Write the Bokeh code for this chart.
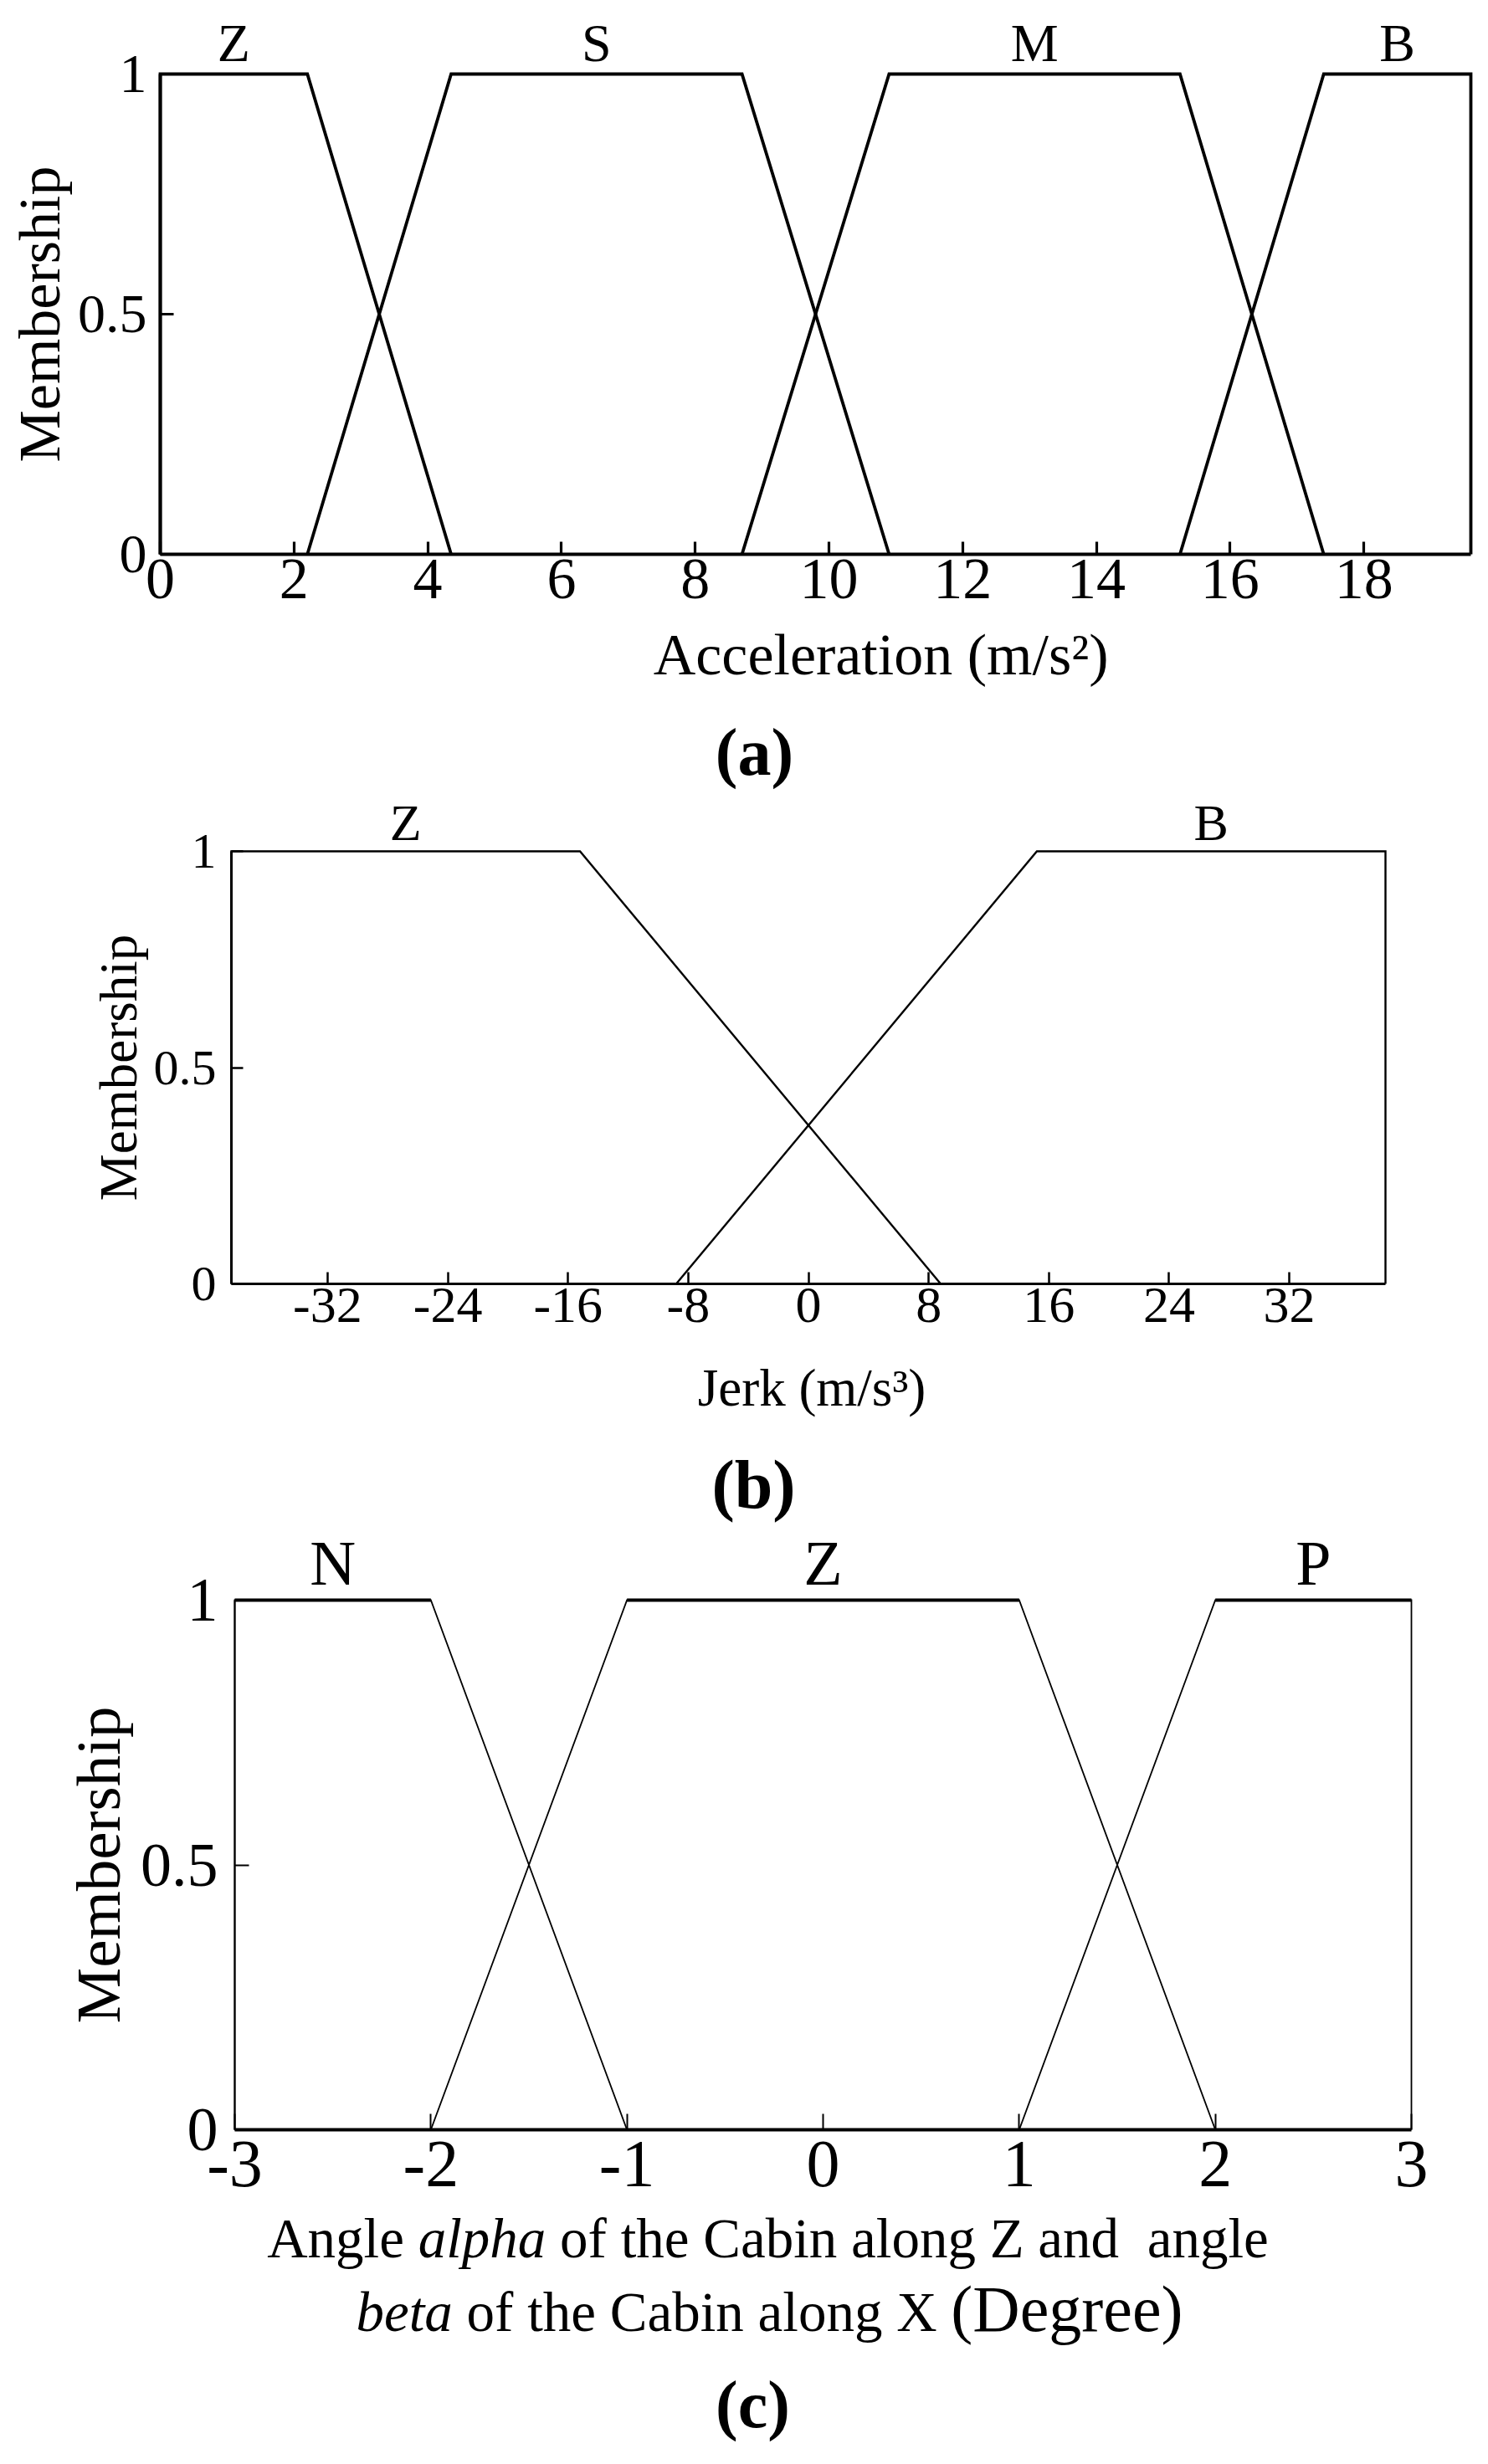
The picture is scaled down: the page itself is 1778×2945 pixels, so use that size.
from bokeh.plotting import figure
from bokeh.layouts import column
from bokeh.models import Range1d, FixedTicker, Label
from bokeh.embed import file_html
from bokeh.resources import INLINE

FONT = "Liberation Serif"

# ---------------- data ----------------
# (a) Acceleration membership functions: trapezoid corner x-values
acc_names = ["Z", "S", "M", "B"]
acc_Z = [0.0, 0.0, 2.2, 4.35]
acc_S = [2.2, 4.35, 8.7, 10.9]
acc_M = [8.7, 10.9, 15.25, 17.4]
acc_B = [15.25, 17.4, 19.6, 19.6]
acc_ticks = [0, 2, 4, 6, 8, 10, 12, 14, 16, 18]
acc_xmin, acc_xmax = 0.0, 19.6

# (b) Jerk membership functions
jerk_names = ["Z", "B"]
jerk_Z = [-38.4, -38.4, -15.2, 8.8]
jerk_B = [-8.8, 15.2, 38.4, 38.4]
jerk_ticks = [-32, -24, -16, -8, 0, 8, 16, 24, 32]
jerk_xmin, jerk_xmax = -38.4, 38.4

# (c) Angle membership functions
ang_names = ["N", "Z", "P"]
ang_N = [-3, -3, -2, -1]
ang_Z = [-2, -1, 1, 2]
ang_P = [1, 2, 3, 3]
ang_ticks = [-3, -2, -1, 0, 1, 2, 3]
ang_xmin, ang_xmax = -3, 3

trap_y = [0, 1, 1, 0]
mem_ticks = [0, 0.5, 1]
mem_labels = ["0", "0.5", "1"]

# ---------------- text metrics (Times / Liberation Serif advance widths) ----------------
ADV_REG = {" ": 250, "A": 722, "C": 667, "D": 722, "X": 722, "Z": 611, "a": 444, "b": 500,
           "d": 500, "e": 444, "f": 333, "g": 500, "h": 500, "i": 278, "l": 278, "n": 500,
           "o": 500, "r": 333, "t": 278, "(": 333, ")": 333}
ADV_ITA = {"a": 500, "b": 500, "e": 444, "h": 500, "l": 278, "p": 500, "t": 278}
MID = 0.3375  # distance (em) from baseline up to the middle of the text box


def text_width(s, size, italic=False):
    t = ADV_ITA if italic else ADV_REG
    return sum(t.get(ch, ADV_REG.get(ch, 500)) for ch in s) * size / 1000.0


PAGE_L, PAGE_R = 0, 1778
PAGE_W = PAGE_R - PAGE_L


def make_panel(cfg):
    H = cfg["height"]
    pt = cfg["page_top"]
    xmin, xmax = cfg["xmin"], cfg["xmax"]
    pxu = (cfg["x1_px"] - cfg["x0_px"]) / (xmax - xmin)
    pyu = (cfg["y0_px"] - cfg["y1_px"])
    x_start = xmin - (cfg["x0_px"] - PAGE_L) / pxu
    x_end = xmin + (PAGE_R - cfg["x0_px"]) / pxu
    y_start = -(pt + H - cfg["y0_px"]) / pyu
    y_end = (cfg["y0_px"] - pt) / pyu
    p = figure(width=PAGE_W, height=H,
               x_range=Range1d(x_start, x_end), y_range=Range1d(y_start, y_end),
               min_border=0, min_border_left=0, min_border_right=0,
               min_border_top=0, min_border_bottom=0,
               output_backend="svg", toolbar_location=None, title=None)
    p.outline_line_color = None
    p.xgrid.visible = False
    p.ygrid.visible = False
    p.background_fill_color = "white"
    p.border_fill_color = "white"

    st = cfg["style"]
    # x axis, drawn at y = 0
    xa = p.xaxis[0]
    xa.fixed_location = 0
    xa.ticker = FixedTicker(ticks=cfg["ticks"])
    xa.major_label_overrides = {t: str(t) for t in cfg["ticks"]}
    xa.bounds = (xmin, xmax)
    xa.major_tick_in = st["xtick_len"]
    xa.major_tick_out = 0
    xa.minor_tick_line_color = None
    xa.axis_line_width = st["xaxis_w"]
    xa.axis_line_color = "black"
    xa.major_tick_line_width = st["tick_w"]
    xa.major_tick_line_color = "black"
    xa.major_label_text_font = FONT
    xa.major_label_text_font_size = f"{st['xtick_font']}px"
    xa.major_label_text_color = "black"
    xa.major_label_standoff = st["xtick_standoff"]

    # y axis, drawn at x = xmin
    ya = p.yaxis[0]
    ya.fixed_location = xmin
    ya.ticker = FixedTicker(ticks=mem_ticks)
    ya.major_label_overrides = dict(zip(mem_ticks, mem_labels))
    ya.bounds = (0, 1)
    ya.major_tick_in = st["ytick_len"]
    ya.major_tick_out = 0
    ya.minor_tick_line_color = None
    ya.axis_line_width = st["yaxis_w"]
    ya.axis_line_color = "black"
    ya.major_tick_line_width = st["tick_w"]
    ya.major_tick_line_color = "black"
    ya.major_label_text_font = FONT
    ya.major_label_text_font_size = f"{st['ytick_font']}px"
    ya.major_label_text_color = "black"
    ya.major_label_standoff = st["ytick_standoff"]
    ya.axis_label = "Membership"
    ya.axis_label_text_font = FONT
    ya.axis_label_text_font_size = f"{st['ylab_font']}px"
    ya.axis_label_text_font_style = "normal"
    ya.axis_label_text_color = "black"
    ya.axis_label_standoff = st["ylab_standoff"]

    # membership functions
    for name, xs in zip(cfg["names"], cfg["shapes"]):
        p.line(xs, trap_y, line_width=st["line_w"], line_color="black", line_join="miter")
        if st["top_w"] != st["line_w"]:
            p.line(xs[1:3], trap_y[1:3], line_width=st["top_w"], line_color="black")
        p.add_layout(Label(x=(xs[1] + xs[2]) / 2, y=1,
                           y_offset=st["letter_off"] + MID * st["letter_font"], text=name,
                           text_align="center", text_baseline="middle", text_font=FONT,
                           text_font_size=f"{st['letter_font']}px", text_color="black"))

    # texts below the axes (axis title lines and caption): page pixels -> screen units
    oy = pt + H
    for segs, cx, base in cfg["title_lines"]:
        widths = [text_width(t, s, sty == "italic") for t, sty, s, g in segs]
        total = sum(w + g * 0.25 * s for w, (t, sty, s, g) in zip(widths, segs))
        x = cx - total / 2
        for w, (t, sty, s, g) in zip(widths, segs):
            p.add_layout(Label(x=x - PAGE_L, y=oy - (base - MID * s), x_units="screen", y_units="screen",
                               text=t, text_align="left", text_baseline="middle", text_font=FONT,
                               text_font_size=f"{s}px", text_font_style=sty, text_color="black"))
            x += w + g * 0.25 * s
    cap, ccx, cbase, csize = cfg["caption"]
    p.add_layout(Label(x=ccx - PAGE_L, y=oy - (cbase - MID * csize), x_units="screen", y_units="screen",
                       text=cap, text_align="center", text_baseline="middle", text_font=FONT,
                       text_font_size=f"{csize}px", text_font_style="bold", text_color="black"))
    return p


cfg_a = dict(page_top=0, height=945, x0_px=191, x1_px=1757, y1_px=88, y0_px=662,
             xmin=acc_xmin, xmax=acc_xmax, ticks=acc_ticks, names=acc_names,
             shapes=[acc_Z, acc_S, acc_M, acc_B],
             title_lines=[([("Acceleration (m/s\u00b2)", "normal", 70, 0)], 1065, 806)],
             caption=("(a)", 901, 925, 80),
             style=dict(line_w=3.8, top_w=3.8, xaxis_w=3.8, yaxis_w=3.8, tick_w=3.2,
                        xtick_len=15, ytick_len=16, xtick_font=70, ytick_font=66, ylab_font=70,
                        letter_font=64, letter_off=15, ylab_standoff=4, ytick_standoff=16,
                        xtick_standoff=6))

cfg_b = dict(page_top=945, height=877, x0_px=276, x1_px=1655, y1_px=1017, y0_px=1534,
             xmin=jerk_xmin, xmax=jerk_xmax, ticks=jerk_ticks, names=jerk_names,
             shapes=[jerk_Z, jerk_B],
             title_lines=[([("Jerk (m/s\u00b3)", "normal", 63, 0)], 981, 1680)],
             caption=("(b)", 900, 1802, 82),
             style=dict(line_w=2.4, top_w=2.4, xaxis_w=3.0, yaxis_w=3.0, tick_w=2.5,
                        xtick_len=14, ytick_len=14, xtick_font=62, ytick_font=60, ylab_font=63,
                        letter_font=62, letter_off=14, ylab_standoff=4, ytick_standoff=18,
                        xtick_standoff=5))

cfg_c = dict(page_top=1822, height=1123, x0_px=280, x1_px=1686, y1_px=1912, y0_px=2545,
             xmin=ang_xmin, xmax=ang_xmax, ticks=ang_ticks, names=ang_names,
             shapes=[ang_N, ang_Z, ang_P],
             title_lines=[
                 ([("Angle", "normal", 67, 1), ("alpha", "italic", 67, 1),
                   ("of the Cabin along Z and", "normal", 67, 2), ("angle", "normal", 67, 0)], 917, 2697),
                 ([("beta", "italic", 67, 1), ("of the Cabin along X", "normal", 67, 1),
                   ("(Degree)", "normal", 78, 0)], 919, 2785),
             ],
             caption=("(c)", 899, 2900, 80),
             style=dict(line_w=1.8, top_w=4.0, xaxis_w=4.0, yaxis_w=2.0, tick_w=2,
                        xtick_len=19, ytick_len=17, xtick_font=80, ytick_font=74, ylab_font=75,
                        letter_font=76, letter_off=19, ylab_standoff=6, ytick_standoff=20,
                        xtick_standoff=14))

layout = column(make_panel(cfg_a), make_panel(cfg_b), make_panel(cfg_c))

with open("out.html", "w") as f:
    f.write(file_html(layout, INLINE))
